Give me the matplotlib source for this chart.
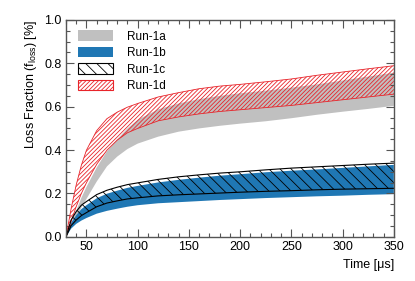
import matplotlib
matplotlib.use("Agg")
import matplotlib.pyplot as plt
from matplotlib.patches import Patch
from matplotlib.ticker import MultipleLocator

plt.rcParams['font.family'] = ['Liberation Sans', 'DejaVu Sans']
plt.rcParams['hatch.linewidth'] = 0.6

# time grid [us]
t = [30, 35, 40, 45, 50, 60, 70, 80, 90, 100, 120, 140, 160, 180, 200, 225, 250, 275, 300, 325, 350]

run1a_lo = [0, 0.040, 0.085, 0.135, 0.175, 0.255, 0.325, 0.370, 0.405, 0.430, 0.462, 0.485, 0.500, 0.512, 0.522, 0.533, 0.547, 0.563, 0.577, 0.590, 0.604]
run1a_hi = [0, 0.060, 0.120, 0.180, 0.230, 0.320, 0.395, 0.450, 0.500, 0.540, 0.588, 0.615, 0.635, 0.650, 0.662, 0.674, 0.688, 0.703, 0.721, 0.739, 0.757]

run1b_lo = [0, 0.038, 0.060, 0.075, 0.087, 0.107, 0.120, 0.130, 0.139, 0.146, 0.155, 0.160, 0.165, 0.170, 0.174, 0.179, 0.183, 0.187, 0.190, 0.194, 0.197]
run1b_hi = [0, 0.065, 0.100, 0.128, 0.146, 0.178, 0.199, 0.213, 0.226, 0.235, 0.251, 0.263, 0.273, 0.282, 0.289, 0.298, 0.305, 0.311, 0.318, 0.325, 0.332]

run1c_lo = [0, 0.052, 0.078, 0.098, 0.112, 0.139, 0.156, 0.166, 0.175, 0.180, 0.189, 0.194, 0.198, 0.202, 0.206, 0.210, 0.213, 0.217, 0.220, 0.222, 0.224]
run1c_hi = [0, 0.078, 0.117, 0.146, 0.163, 0.195, 0.215, 0.229, 0.241, 0.249, 0.265, 0.277, 0.286, 0.294, 0.300, 0.309, 0.317, 0.323, 0.329, 0.335, 0.340]

run1d_lo = [0, 0.070, 0.140, 0.200, 0.250, 0.335, 0.400, 0.446, 0.480, 0.500, 0.535, 0.553, 0.567, 0.578, 0.586, 0.596, 0.606, 0.619, 0.632, 0.645, 0.658]
run1d_hi = [0, 0.130, 0.240, 0.330, 0.400, 0.490, 0.545, 0.575, 0.598, 0.615, 0.645, 0.665, 0.683, 0.695, 0.703, 0.715, 0.728, 0.745, 0.760, 0.775, 0.789]

labels = ['Run-1a', 'Run-1b', 'Run-1c', 'Run-1d']
gray = '#c0c0c0'
blue = '#1f77b4'
red = '#e8242a'
hatch_c = '\\' * 3
hatch_d = '/' * 8

fig = plt.figure(figsize=(4.15, 2.81), dpi=100)
ax = fig.add_axes([0.159, 0.157, 0.790, 0.772])

ax.fill_between(t, run1a_lo, run1a_hi, facecolor=gray, edgecolor='none', linewidth=0)
ax.fill_between(t, run1d_lo, run1d_hi, facecolor='none', edgecolor=red, hatch=hatch_d, linewidth=0)
ax.plot(t, run1d_lo, color=red, lw=0.6)
ax.plot(t, run1d_hi, color=red, lw=0.6)

ax.fill_between(t, run1b_lo, run1b_hi, facecolor=blue, edgecolor='none', linewidth=0)
ax.fill_between(t, run1c_lo, run1c_hi, facecolor='none', edgecolor='black', hatch=hatch_c, linewidth=0)
ax.plot(t, run1c_lo, color='black', lw=0.8)
ax.plot(t, run1c_hi, color='black', lw=0.8)

ax.set_xlim(30, 350)
ax.set_ylim(0, 1.0)
ax.xaxis.set_major_locator(MultipleLocator(50))
ax.xaxis.set_minor_locator(MultipleLocator(10))
ax.yaxis.set_major_locator(MultipleLocator(0.2))
ax.yaxis.set_minor_locator(MultipleLocator(0.05))
ax.yaxis.set_major_formatter(matplotlib.ticker.FormatStrFormatter('%.1f'))

spine_col = '#555555'
for s in ax.spines.values():
    s.set_color(spine_col)
    s.set_linewidth(1.0)
ax.tick_params(which='both', direction='in', top=True, right=True, color=spine_col,
               labelsize=9, width=0.8)
ax.tick_params(which='major', length=6, pad=3)
ax.tick_params(which='minor', length=3)

ax.set_xlabel('Time [μs]', fontsize=9, loc='right')
ax.set_ylabel('Loss Fraction (f$_{\\mathregular{loss}}$) [%]', fontsize=9, loc='top')

handles = [
    Patch(facecolor=gray, edgecolor='none'),
    Patch(facecolor=blue, edgecolor='none'),
    Patch(facecolor='none', edgecolor='black', hatch=hatch_c, linewidth=0.8),
    Patch(facecolor='none', edgecolor=red, hatch=hatch_d, linewidth=0.8),
]
ax.legend(handles, labels, loc='upper left', frameon=False, fontsize=8.5,
          handlelength=3.0, handleheight=1.0, labelspacing=0.35, handletextpad=1.2,
          borderaxespad=0.3, bbox_to_anchor=(0.01, 0.99))

fig.savefig('out.png', dpi=100)
